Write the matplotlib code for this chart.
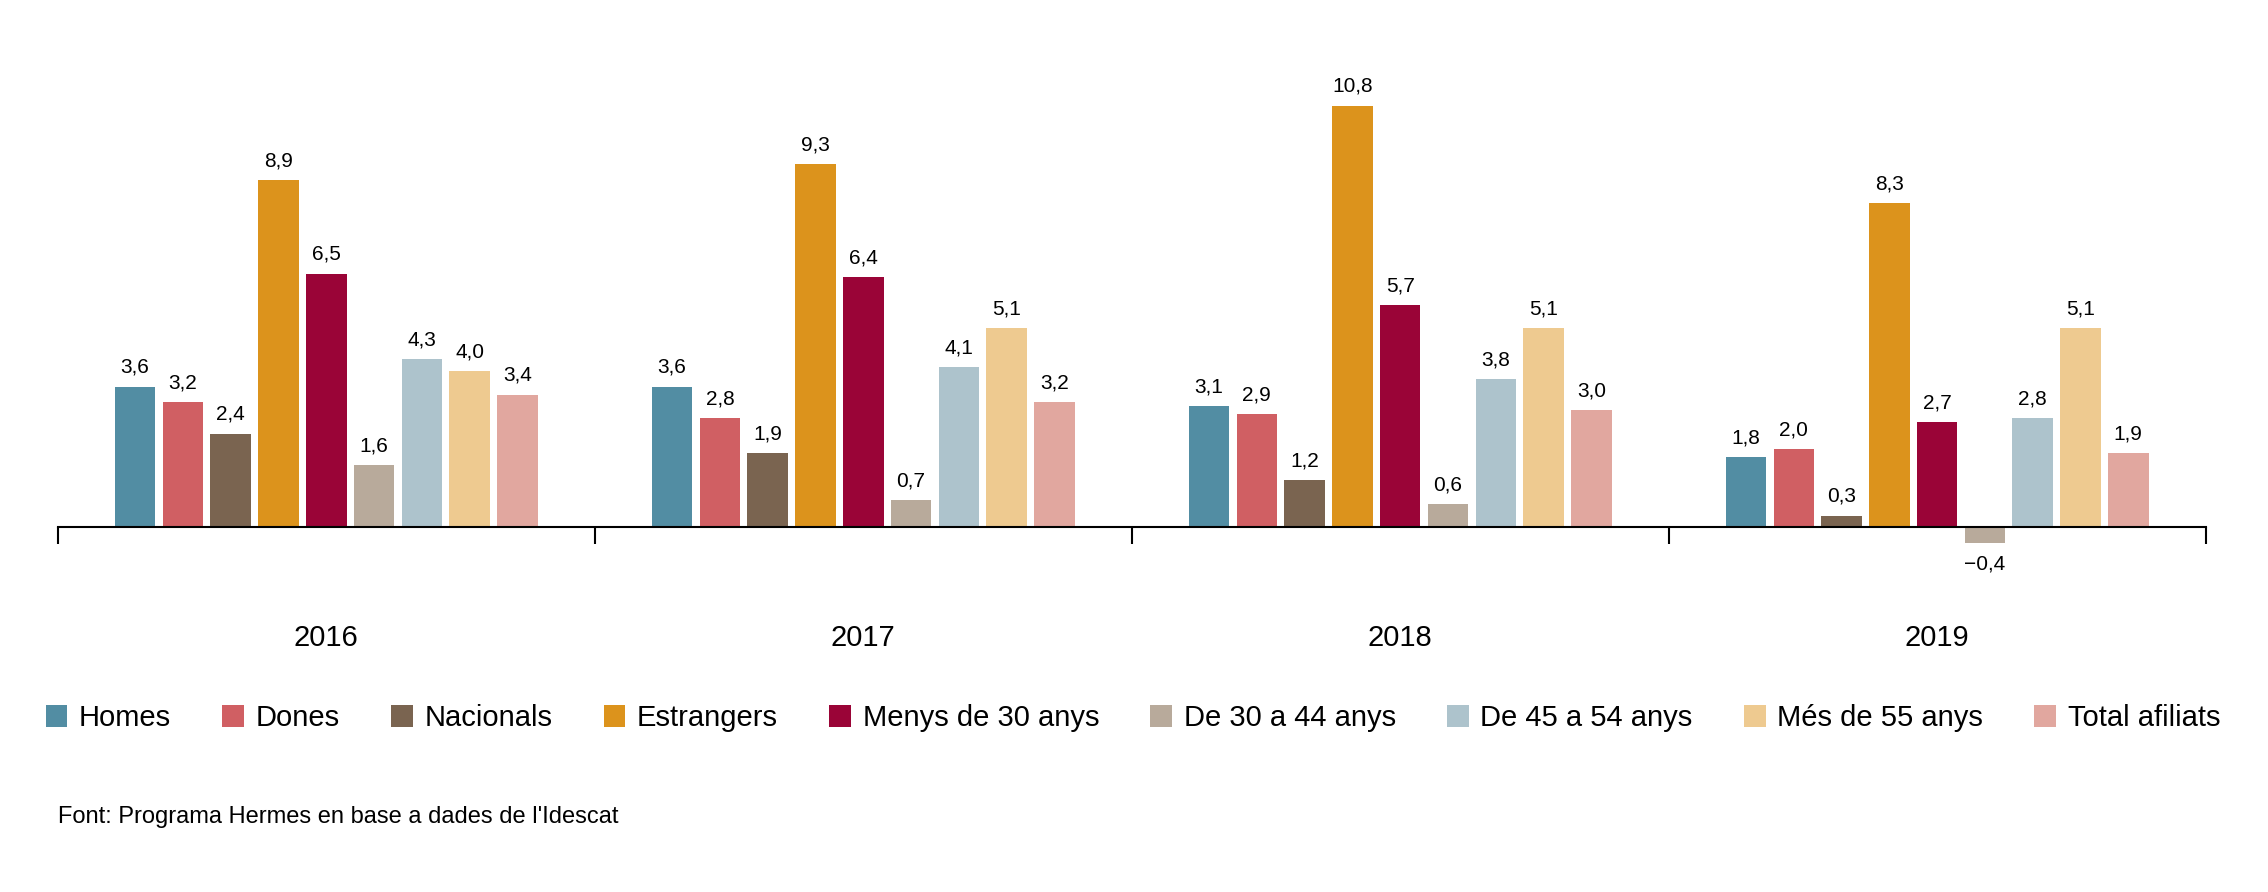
import matplotlib.pyplot as plt
import numpy as np

plt.rcParams['font.family'] = ['Liberation Sans', 'DejaVu Sans']

years = ["2016", "2017", "2018", "2019"]
series = ["Homes", "Dones", "Nacionals", "Estrangers", "Menys de 30 anys",
          "De 30 a 44 anys", "De 45 a 54 anys", "Més de 55 anys", "Total afiliats"]
colors = ["#528da3", "#d05f63", "#7a6450", "#dc931c", "#9a0437",
          "#b8aa9b", "#adc3cc", "#eeca90", "#e1a79f"]
homes = [3.6, 3.6, 3.1, 1.8]
dones = [3.2, 2.8, 2.9, 2.0]
nacionals = [2.4, 1.9, 1.2, 0.3]
estrangers = [8.9, 9.3, 10.8, 8.3]
menys30 = [6.5, 6.4, 5.7, 2.7]
de30_44 = [1.6, 0.7, 0.6, -0.4]
de45_54 = [4.3, 4.1, 3.8, 2.8]
mes55 = [4.0, 5.1, 5.1, 5.1]
total = [3.4, 3.2, 3.0, 1.9]
values = [homes, dones, nacionals, estrangers, menys30, de30_44, de45_54, mes55, total]

fig = plt.figure(figsize=(22.68, 8.92), dpi=100)
ax = fig.add_axes([0.0255, 0.352, 0.947, 0.582])

step = 0.089
width = 0.0755
centers = np.arange(len(years)) + 0.5
for j, (name, vals, c) in enumerate(zip(series, values, colors)):
    x = centers + (j - 4) * step
    ax.bar(x, vals, width=width, color=c, label=name)
    for xi, v in zip(x, vals):
        txt = ("%.1f" % v).replace(".", ",").replace("-", "\u2212")
        if v >= 0:
            ax.text(xi, v + 0.25, txt, ha="center", va="bottom", fontsize=15)
        else:
            ax.text(xi, v - 0.3, txt, ha="center", va="top", fontsize=15)

ax.set_xlim(0, 4)
ax.set_ylim(-1.3, 12)
for s in ["top", "right", "left"]:
    ax.spines[s].set_visible(False)
ax.spines["bottom"].set_position(("data", 0))
ax.spines["bottom"].set_linewidth(1.5)
ax.set_yticks([])
ax.set_xticks([0, 1, 2, 3, 4])
ax.set_xticklabels([])
ax.tick_params(axis="x", length=12, width=1.5, direction="out")

for c, y in zip(centers, years):
    fig.text(0.0255 + 0.947 * c / 4, 0.285, y, ha="center", va="center", fontsize=21)

fig.legend(loc="center", bbox_to_anchor=(0.4995, 0.195), ncol=9, frameon=False,
           fontsize=21, handlelength=0.75, handleheight=0.75, handletextpad=0.4,
           columnspacing=1.75)
fig.text(0.0255, 0.084, "Font: Programa Hermes en base a dades de l'Idescat",
         ha="left", va="center", fontsize=17)

fig.savefig("out.png", dpi=100)
